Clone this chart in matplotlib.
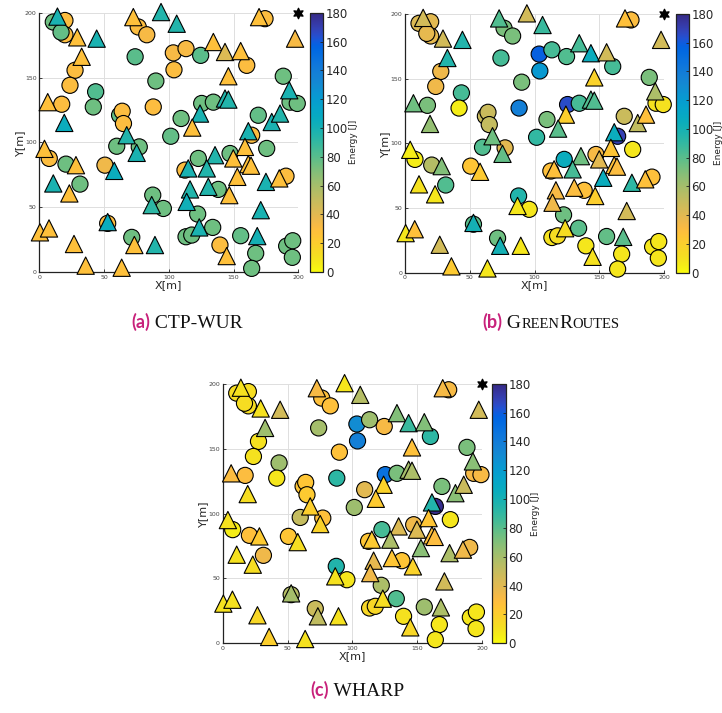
import numpy as np
import matplotlib
matplotlib.use('Agg')
import matplotlib.pyplot as plt
from matplotlib.colors import LinearSegmentedColormap, Normalize
from matplotlib.cm import ScalarMappable
from matplotlib.offsetbox import TextArea, HPacker, AnnotationBbox

# ---------------- data ----------------
node_x = [10.8, 14.0, 19.8, 19.8, 16.8, 29.3, 44.3, 32.7, 27.6, 23.7,
          43.5, 6.5, 17.3, 41.7, 19.3, 4.0, 7.7, 20.6, 28.3, 50.7,
          57.9, 10.8, 31.4, 23.2, 52.8, 52.8, 0.5, 7.5, 26.8, 71.4,
          73.4, 89.3, 35.8, 63.6, 59.8, 77.2, 75.2, 67.5, 62.0, 64.0,
          65.0, 72.6, 76.4, 83.0, 94.0, 74.0, 90.0, 88.0, 101.5, 103.5,
          113.3, 124.6, 134.4, 143.4, 155.5, 160.2, 104.0, 146.0, 188.4, 193.0,
          193.6, 199.2, 125.4, 134.4, 143.4, 146.0, 124.1, 109.5, 118.1, 169.1,
          179.5, 185.9, 161.4, 164.0, 175.6, 158.8, 135.7, 122.8, 147.3, 149.8,
          161.4, 163.5, 112.5, 115.0, 129.3, 152.9, 175.0, 185.3, 190.5, 116.4,
          130.5, 138.2, 146.7, 113.8, 95.8, 87.6, 86.8, 171.0, 122.3, 123.5,
          133.9, 113.3, 117.7, 155.5, 168.3, 139.5, 144.7, 167.1, 164.0, 191.0,
          195.7, 195.4, 106.1, 169.7, 174.3, 197.5]
node_y = [192.8, 197.0, 194.0, 183.0, 185.0, 181.0, 180.0, 166.0, 155.6, 144.0,
          139.0, 131.0, 129.4, 127.3, 115.0, 95.0, 87.6, 83.2, 82.4, 82.4,
          78.0, 68.3, 67.8, 60.6, 37.5, 38.5, 30.6, 33.6, 21.6, 26.7,
          20.8, 20.8, 4.9, 3.3, 97.0, 96.5, 91.9, 105.5, 121.0, 124.0,
          114.5, 196.6, 189.0, 183.0, 200.5, 166.0, 147.3, 127.3, 104.7, 169.0,
          172.3, 167.1, 177.4, 169.7, 170.4, 159.4, 156.0, 151.0, 151.0, 140.2,
          131.0, 130.0, 130.0, 131.0, 133.8, 133.0, 122.2, 118.4, 111.4, 120.9,
          115.7, 122.2, 108.6, 105.5, 95.3, 96.5, 90.1, 87.6, 91.4, 87.6,
          83.2, 82.0, 78.6, 79.9, 79.9, 73.4, 69.5, 72.2, 73.9, 63.7,
          65.7, 63.7, 59.3, 54.1, 49.0, 59.3, 51.6, 47.7, 44.7, 34.4,
          34.4, 27.2, 28.5, 28.0, 27.7, 20.8, 12.3, 14.4, 2.8, 20.0,
          24.1, 11.3, 191.5, 196.6, 195.4, 180.0]
node_shape = ['o', '^', 'o', 'o', 'o', '^', '^', '^', 'o', 'o',
              'o', '^', 'o', 'o', '^', '^', 'o', 'o', '^', 'o',
              '^', '^', 'o', '^', 'o', '^', '^', '^', '^', 'o',
              '^', '^', '^', '^', 'o', 'o', '^', '^', 'o', 'o',
              'o', '^', 'o', 'o', '^', 'o', 'o', 'o', 'o', 'o',
              'o', 'o', '^', '^', '^', 'o', 'o', '^', 'o', '^',
              'o', 'o', 'o', 'o', '^', '^', '^', 'o', '^', 'o',
              '^', '^', '^', 'o', 'o', '^', '^', 'o', 'o', '^',
              '^', '^', 'o', '^', '^', '^', '^', '^', 'o', '^',
              '^', 'o', '^', '^', 'o', 'o', '^', '^', 'o', '^',
              'o', 'o', 'o', 'o', '^', 'o', '^', 'o', 'o', 'o',
              'o', 'o', '^', '^', 'o', '^']
energy_ctp = [75, 98, 30, 30, 78, 28, 98, 28, 30, 30,
              82, 28, 30, 75, 105, 28, 30, 75, 28, 35,
              105, 98, 75, 28, 30, 105, 28, 28, 28, 75,
              28, 95, 28, 28, 75, 75, 98, 95, 78, 30,
              30, 28, 30, 32, 95, 80, 75, 30, 78, 32,
              32, 80, 28, 42, 28, 30, 30, 28, 75, 98,
              75, 75, 75, 75, 95, 95, 98, 75, 28, 78,
              98, 95, 98, 30, 75, 28, 95, 75, 75, 28,
              28, 28, 30, 98, 95, 28, 98, 28, 30, 95,
              95, 75, 28, 102, 75, 75, 92, 98, 75, 98,
              75, 75, 75, 78, 100, 30, 28, 75, 75, 75,
              75, 75, 95, 28, 30, 32]
energy_green = [42, 45, 40, 38, 38, 45, 95, 95, 35, 35,
                85, 75, 72, 5, 65, 5, 5, 55, 70, 25,
                22, 10, 82, 8, 80, 100, 8, 28, 45, 75,
                100, 8, 22, 8, 82, 40, 78, 75, 48, 48,
                50, 82, 72, 72, 45, 85, 72, 138, 90, 158,
                85, 82, 85, 105, 45, 85, 122, 18, 72, 58,
                10, 10, 165, 85, 82, 82, 20, 72, 80, 48,
                52, 28, 105, 170, 8, 25, 75, 105, 32, 40,
                28, 30, 28, 28, 85, 105, 92, 28, 28, 32,
                30, 28, 20, 35, 8, 95, 8, 45, 75, 12,
                80, 10, 12, 78, 80, 8, 10, 8, 8, 8,
                8, 8, 88, 28, 30, 45]
energy_wharp = [12, 10, 12, 12, 12, 10, 45, 62, 10, 10,
                62, 30, 30, 8, 12, 10, 5, 28, 22, 25,
                12, 10, 35, 12, 55, 60, 10, 10, 15, 48,
                52, 10, 20, 10, 50, 28, 18, 20, 25, 25,
                22, 32, 28, 28, 8, 60, 27, 92, 62, 130,
                62, 32, 70, 88, 70, 92, 138, 27, 72, 68,
                32, 32, 148, 72, 60, 58, 18, 40, 22, 72,
                68, 48, 95, 178, 8, 25, 42, 85, 35, 42,
                28, 30, 25, 22, 58, 68, 58, 35, 35, 38,
                25, 25, 18, 35, 8, 95, 10, 45, 58, 12,
                82, 15, 15, 62, 58, 10, 15, 8, 8, 8,
                8, 8, 55, 33, 32, 45]
sink_x = [200]
sink_y = [200]
energy_ticks = list(range(0, 181, 20))
axis_ticks = [0, 50, 100, 150, 200]
panel_names = ['CTP-WUR', 'GreenRoutes', 'WHARP']

# parula colormap (MATLAB), reversed so that 0 J is yellow
parula = [
 (0.2081, 0.1663, 0.5292), (0.2116, 0.1898, 0.5777), (0.2123, 0.2138, 0.6270),
 (0.2081, 0.2386, 0.6771), (0.1959, 0.2645, 0.7279), (0.1707, 0.2919, 0.7792),
 (0.1253, 0.3242, 0.8303), (0.0591, 0.3598, 0.8683), (0.0117, 0.3875, 0.8820),
 (0.0060, 0.4086, 0.8828), (0.0165, 0.4266, 0.8786), (0.0329, 0.4430, 0.8720),
 (0.0498, 0.4586, 0.8641), (0.0629, 0.4737, 0.8554), (0.0723, 0.4887, 0.8467),
 (0.0779, 0.5040, 0.8384), (0.0793, 0.5200, 0.8312), (0.0749, 0.5375, 0.8263),
 (0.0641, 0.5570, 0.8240), (0.0488, 0.5772, 0.8228), (0.0343, 0.5966, 0.8199),
 (0.0265, 0.6137, 0.8135), (0.0239, 0.6287, 0.8038), (0.0231, 0.6418, 0.7913),
 (0.0228, 0.6535, 0.7768), (0.0267, 0.6642, 0.7607), (0.0384, 0.6743, 0.7436),
 (0.0590, 0.6838, 0.7254), (0.0843, 0.6928, 0.7062), (0.1133, 0.7015, 0.6859),
 (0.1453, 0.7098, 0.6646), (0.1801, 0.7177, 0.6424), (0.2178, 0.7250, 0.6193),
 (0.2586, 0.7317, 0.5954), (0.3022, 0.7376, 0.5712), (0.3482, 0.7424, 0.5473),
 (0.3953, 0.7459, 0.5244), (0.4420, 0.7481, 0.5033), (0.4871, 0.7491, 0.4840),
 (0.5300, 0.7491, 0.4661), (0.5709, 0.7485, 0.4494), (0.6099, 0.7473, 0.4337),
 (0.6473, 0.7456, 0.4188), (0.6834, 0.7435, 0.4044), (0.7184, 0.7411, 0.3905),
 (0.7525, 0.7384, 0.3768), (0.7858, 0.7356, 0.3633), (0.8185, 0.7327, 0.3498),
 (0.8507, 0.7299, 0.3360), (0.8824, 0.7274, 0.3217), (0.9139, 0.7258, 0.3063),
 (0.9450, 0.7261, 0.2886), (0.9739, 0.7314, 0.2666), (0.9938, 0.7455, 0.2403),
 (0.9990, 0.7653, 0.2164), (0.9955, 0.7861, 0.1967), (0.9880, 0.8066, 0.1794),
 (0.9789, 0.8271, 0.1633), (0.9697, 0.8481, 0.1475), (0.9626, 0.8705, 0.1309),
 (0.9589, 0.8949, 0.1132), (0.9598, 0.9218, 0.0948), (0.9661, 0.9514, 0.0755),
 (0.9763, 0.9831, 0.0538)]
cmap = LinearSegmentedColormap.from_list('parula_r', parula[::-1])
norm = Normalize(0, 180)

W, H = 722, 713
fig = plt.figure(figsize=(W / 100, H / 100), dpi=100)
MAG = '#c8217b'
TXT = '#262626'


def px_rect(x0, y0, x1, y1):
    return [x0 / W, 1 - y1 / H, (x1 - x0) / W, (y1 - y0) / H]


def panel(ax_px, cb_px, energy):
    ax = fig.add_axes(px_rect(*ax_px))
    x = np.array(node_x)
    y = np.array(node_y)
    e = np.array(energy, dtype=float)
    shp = np.array(node_shape)
    for marker, size in [('o', 135), ('^', 155)]:
        m = shp == marker
        ax.scatter(x[m], y[m], c=e[m], cmap=cmap, norm=norm, marker=marker,
                   s=size, edgecolors='black', linewidths=0.8,
                   clip_on=False, zorder=3)
    ax.scatter(sink_x, sink_y, marker=(6, 1, 0), s=55, c='black',
               clip_on=False, zorder=4)
    ax.set_xlim(0, 200)
    ax.set_ylim(0, 200)
    ax.set_xticks(axis_ticks)
    ax.set_yticks(axis_ticks)
    ax.grid(True, color='#dedede', lw=0.7)
    ax.set_axisbelow(True)
    for s in ['top', 'right']:
        ax.spines[s].set_visible(False)
    for s in ['left', 'bottom']:
        ax.spines[s].set_color('#222222')
        ax.spines[s].set_linewidth(0.9)
    ax.tick_params(labelsize=4.5, direction='in', length=2.5, width=0.6,
                   colors='#222222', labelcolor='#444444', pad=2)
    ax.set_xlabel('X[m]', fontsize=8, color=TXT, labelpad=0)
    ax.set_ylabel('Y[m]', fontsize=8, color=TXT, labelpad=0)

    cax = fig.add_axes(px_rect(*cb_px))
    sm = ScalarMappable(norm=norm, cmap=cmap)
    cb = fig.colorbar(sm, cax=cax, ticks=energy_ticks)
    cb.outline.set_linewidth(0.9)
    cb.outline.set_edgecolor('#222222')
    cb.ax.tick_params(labelsize=8.5, direction='in', length=2.5, width=0.6,
                      colors='#222222', labelcolor=TXT, pad=2)
    cb.set_label('Energy [J]', fontsize=6.5, color=TXT, labelpad=0.5)
    return ax


panel((39.3, 12.7, 298.3, 272.0), (309.5, 12.7, 323.0, 272.0), energy_ctp)
panel((405.0, 14.0, 664.3, 272.7), (675.5, 14.0, 688.5, 272.7), energy_green)
panel((222.7, 383.8, 482.0, 643.3), (492.0, 383.8, 505.5, 643.3), energy_wharp)


def caption(label, parts, cx, cy):
    boxes = [TextArea(label, textprops=dict(color=MAG, fontweight='bold',
                                            fontsize=13, family='Lato'))]
    for txt, fs in parts:
        boxes.append(TextArea(txt, textprops=dict(fontsize=fs, color='#111111',
                                                  family='Liberation Serif')))
    pack = HPacker(children=boxes, align='baseline', pad=0, sep=0)
    ab = AnnotationBbox(pack, (cx / W, 1 - cy / H), xycoords='figure fraction',
                        frameon=False, box_alignment=(0.5, 0.5), pad=0)
    fig.add_artist(ab)


caption('(a)', [(' ' + panel_names[0], 14)], 187, 322)
gr = panel_names[1]
caption('(b)', [(' ' + gr[0], 14), (gr[1:5].upper(), 10.5), (gr[5], 14),
                (gr[6:].upper(), 10.5)], 551, 322)
caption('(c)', [(' ' + panel_names[2], 14)], 357, 690)

fig.savefig('out.png', dpi=100)
